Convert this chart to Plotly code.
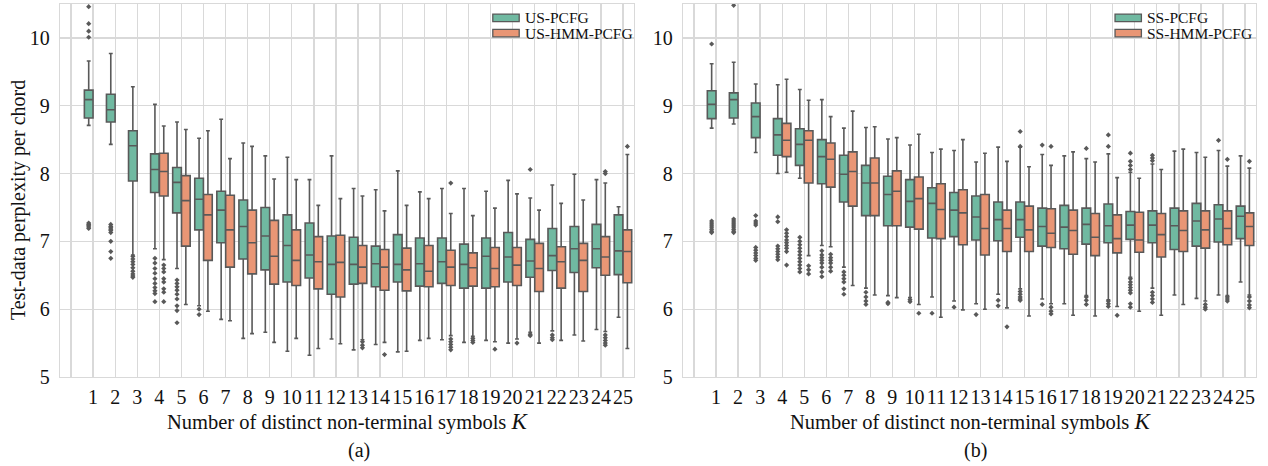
import plotly.graph_objects as go

# ---------------- data ----------------
K = list(range(1, 26))          # K = 1..25 (PCFG)
K_HMM = list(range(4, 26))      # K = 4..25 (HMM-PCFG)
tick_labels = [""] + [str(k) for k in K]

# Panel (a): US-PCFG
us_pcfg_lo  = [8.71, 8.43, 6.80, 6.89, 6.60, 6.05, 5.85, 5.57, 5.66, 5.38, 5.32, 5.56, 5.40, 5.48, 5.37, 5.54, 5.55, 5.51, 5.54, 5.50, 5.66, 5.68, 5.62, 5.70, 5.88]
us_pcfg_q1  = [8.82, 8.76, 7.89, 7.72, 7.42, 7.17, 6.98, 6.74, 6.58, 6.40, 6.46, 6.22, 6.37, 6.33, 6.40, 6.34, 6.38, 6.31, 6.31, 6.40, 6.47, 6.57, 6.54, 6.61, 6.51]
us_pcfg_med = [9.09, 8.94, 8.41, 8.06, 7.87, 7.62, 7.46, 7.22, 7.08, 6.94, 6.80, 6.66, 6.66, 6.67, 6.66, 6.67, 6.70, 6.66, 6.78, 6.77, 6.71, 6.79, 6.89, 6.89, 6.86]
us_pcfg_q3  = [9.23, 9.17, 8.63, 8.29, 8.09, 7.93, 7.74, 7.61, 7.50, 7.39, 7.27, 7.08, 7.06, 6.93, 7.10, 7.05, 7.05, 6.96, 7.05, 7.13, 7.03, 7.19, 7.22, 7.25, 7.39]
us_pcfg_hi  = [9.66, 9.77, 9.28, 9.02, 8.76, 8.52, 8.80, 8.45, 8.26, 8.24, 7.91, 8.26, 7.78, 7.76, 8.04, 7.73, 7.78, 7.78, 7.74, 7.90, 7.64, 7.83, 7.99, 7.91, 7.51]
us_pcfg_out = {
    1: [10.46, 10.21, 10.10, 10.01, 7.27, 7.25, 7.23, 7.21, 7.19],
    2: [7.25, 7.22, 7.20, 7.18, 7.16, 7.13, 7.00, 6.85, 6.75],
    3: [6.78, 6.74, 6.70, 6.66, 6.61, 6.56, 6.52, 6.49, 6.47],
    4: [6.75, 6.68, 6.60, 6.53, 6.45, 6.38, 6.32, 6.27, 6.23, 6.11],
    5: [6.43, 6.38, 6.33, 6.28, 6.22, 6.15, 6.05, 5.98, 5.80],
    6: [6.00, 5.92],
    21: [8.06, 5.63, 5.61],
    22: [5.62, 5.58, 5.55],
}

# Panel (a): US-HMM-PCFG
us_hmm_lo  = [6.73, 6.07, 5.97, 5.83, 5.64, 5.51, 5.57, 5.42, 5.49, 5.55, 5.51, 5.38, 5.57, 5.61, 5.60, 5.52, 5.56, 5.50, 5.54, 5.53, 5.67, 5.42]
us_hmm_q1  = [7.67, 6.93, 6.72, 6.62, 6.52, 6.37, 6.35, 6.30, 6.18, 6.38, 6.28, 6.27, 6.33, 6.35, 6.34, 6.33, 6.35, 6.26, 6.31, 6.26, 6.50, 6.39]
us_hmm_med = [8.03, 7.60, 7.39, 7.17, 6.98, 6.78, 6.72, 6.70, 6.69, 6.62, 6.62, 6.58, 6.56, 6.62, 6.61, 6.60, 6.65, 6.60, 6.70, 6.72, 6.77, 6.85]
us_hmm_q3  = [8.30, 7.97, 7.69, 7.68, 7.46, 7.31, 7.17, 7.07, 7.09, 6.94, 6.88, 6.90, 6.94, 6.87, 6.83, 6.91, 6.91, 6.97, 6.92, 6.97, 7.07, 7.17]
us_hmm_hi  = [8.70, 8.65, 8.63, 8.22, 8.40, 7.92, 7.91, 7.53, 7.63, 7.67, 7.45, 7.53, 7.63, 7.41, 7.38, 7.49, 7.70, 7.46, 7.56, 7.61, 7.86, 8.28]
us_hmm_out = {
    4: [6.65, 6.60, 6.55, 6.45, 6.40, 6.30, 6.25, 6.11],
    13: [5.52, 5.47, 5.43],
    14: [5.33],
    17: [7.86, 5.56, 5.52, 5.48, 5.44, 5.40],
    18: [5.57, 5.54, 5.51],
    19: [5.41],
    20: [5.50],
    24: [8.03, 8.00, 5.62, 5.58, 5.54, 5.50, 5.47],
    25: [8.40],
}

# Panel (b): SS-PCFG
ss_pcfg_lo  = [8.67, 8.73, 8.31, 8.00, 7.93, 6.94, 6.62, 6.31, 6.20, 6.17, 6.18, 6.12, 6.08, 6.22, 6.30, 6.15, 6.08, 6.20, 6.14, 6.47, 6.31, 6.21, 6.16, 6.21, 6.40]
ss_pcfg_q1  = [8.81, 8.82, 8.53, 8.27, 8.12, 7.85, 7.58, 7.38, 7.23, 7.21, 7.05, 7.07, 7.02, 7.01, 7.06, 6.93, 6.89, 6.96, 6.98, 7.03, 6.98, 6.88, 6.93, 6.99, 7.04]
ss_pcfg_med = [9.02, 9.09, 8.84, 8.57, 8.43, 8.25, 7.99, 7.86, 7.69, 7.59, 7.56, 7.46, 7.36, 7.32, 7.32, 7.22, 7.21, 7.25, 7.23, 7.24, 7.24, 7.23, 7.30, 7.33, 7.37]
ss_pcfg_q3  = [9.22, 9.19, 9.04, 8.81, 8.66, 8.50, 8.27, 8.12, 7.96, 7.91, 7.79, 7.72, 7.67, 7.58, 7.58, 7.49, 7.53, 7.49, 7.55, 7.44, 7.45, 7.49, 7.56, 7.54, 7.52]
ss_pcfg_hi  = [9.62, 9.64, 9.32, 9.31, 9.24, 9.09, 8.67, 8.68, 8.51, 8.42, 8.31, 8.34, 8.17, 8.39, 8.39, 8.28, 8.26, 8.22, 8.29, 8.02, 8.14, 8.33, 8.31, 8.34, 8.26]
ss_pcfg_out = {
    1: [9.91, 7.30, 7.27, 7.24, 7.21, 7.18, 7.15, 7.13],
    2: [10.48, 7.33, 7.30, 7.27, 7.24, 7.21, 7.18, 7.15, 7.13],
    3: [7.38, 7.30, 7.27, 7.24, 6.91, 6.87, 6.83, 6.79, 6.75, 6.72],
    4: [7.36, 7.29, 6.93, 6.89, 6.85, 6.81, 6.77, 6.73],
    5: [7.06, 7.00, 6.95, 6.90, 6.85, 6.80, 6.75, 6.70, 6.65, 6.60, 6.55],
    6: [6.86, 6.80, 6.76, 6.72, 6.68, 6.62, 6.55, 6.48],
    7: [6.55, 6.50, 6.45, 6.40, 6.30, 6.22],
    8: [6.25, 6.18, 6.12, 6.07],
    9: [6.10, 6.08],
    10: [6.14, 6.11],
    11: [5.94],
    12: [6.03],
    13: [5.92],
    14: [6.13, 6.05],
    15: [8.62, 8.40, 6.26, 6.22, 6.18, 6.15, 6.13],
    16: [8.42, 6.07],
    18: [8.37, 6.18, 6.13, 6.07],
    19: [8.57, 8.40, 6.12, 6.08, 6.04],
    20: [8.30, 8.18, 8.12, 8.06, 6.45, 6.40, 6.36, 6.32, 6.28, 6.24, 6.08, 6.03],
    21: [8.27, 8.23, 8.19, 6.25, 6.20, 6.15, 6.10],
    24: [8.49],
}

# Panel (b): SS-HMM-PCFG
ss_hmm_lo  = [8.02, 6.79, 6.92, 6.35, 6.21, 6.17, 6.07, 5.88, 5.99, 6.00, 6.02, 5.90, 6.08, 5.91, 5.90, 6.04, 5.97, 5.91, 6.07, 6.12, 6.20, 6.21]
ss_hmm_q1  = [8.25, 7.86, 7.80, 7.52, 7.38, 7.23, 7.18, 7.04, 6.95, 6.80, 6.85, 6.85, 6.91, 6.81, 6.79, 6.83, 6.84, 6.77, 6.85, 6.90, 6.95, 6.94]
ss_hmm_med = [8.49, 8.49, 8.21, 8.03, 7.86, 7.74, 7.63, 7.47, 7.42, 7.19, 7.19, 7.17, 7.12, 7.16, 7.06, 7.04, 7.02, 7.10, 7.16, 7.17, 7.19, 7.22]
ss_hmm_q3  = [8.74, 8.63, 8.45, 8.32, 8.23, 8.04, 7.95, 7.85, 7.76, 7.69, 7.46, 7.52, 7.48, 7.46, 7.41, 7.39, 7.43, 7.41, 7.45, 7.45, 7.45, 7.42]
ss_hmm_hi  = [9.39, 9.08, 8.84, 8.92, 8.69, 8.53, 8.58, 8.36, 8.50, 8.30, 8.18, 8.10, 8.12, 8.32, 8.17, 7.94, 7.93, 8.06, 8.36, 8.24, 8.11, 8.08]
ss_hmm_out = {
    4: [7.17, 7.12, 7.07, 7.02, 6.98, 6.94, 6.90, 6.85, 6.65],
    5: [6.64, 6.58, 6.52],
    6: [6.81, 6.76, 6.72, 6.68, 6.62, 6.56],
    10: [5.94],
    14: [5.74],
    16: [8.40, 6.03, 5.97, 5.93],
    19: [5.91],
    23: [6.07, 6.03, 6.00],
    24: [8.21, 6.18, 6.15, 6.12],
    25: [8.18, 6.18, 6.12, 6.06, 6.02],
}

# ---------------- style ----------------
GREEN = "#70b9a1"
ORANGE = "#e99675"
LINE = "#595959"
GRID = "#d9d9d9"
TXT = "#111111"
FONT = "Liberation Serif"
W, H = 1268, 466
OFF = 0.2      # hue dodge offset (seaborn style)
BOXW = 0.392   # width of each hue box in category units

fig = go.Figure()


def add_box(ks, lo, q1, med, q3, hi, color, shift, xa, ya, name):
    fig.add_trace(go.Box(
        x=[k + shift for k in ks], lowerfence=lo, q1=q1, median=med, q3=q3, upperfence=hi,
        width=BOXW, fillcolor=color, line=dict(color=LINE, width=1.6),
        whiskerwidth=0.45, boxpoints=False, name=name, showlegend=False,
        xaxis=xa, yaxis=ya, hoverinfo="skip",
    ))


def add_out(out, shift, xa, ya):
    xs, ys = [], []
    for k, vals in out.items():
        for v in vals:
            xs.append(k + shift)
            ys.append(v)
    fig.add_trace(go.Scatter(
        x=xs, y=ys, mode="markers", xaxis=xa, yaxis=ya, showlegend=False,
        marker=dict(symbol="diamond", size=4, color=LINE), hoverinfo="skip",
    ))


add_box(K, us_pcfg_lo, us_pcfg_q1, us_pcfg_med, us_pcfg_q3, us_pcfg_hi, GREEN, -OFF, "x", "y", "US-PCFG")
add_box(K_HMM, us_hmm_lo, us_hmm_q1, us_hmm_med, us_hmm_q3, us_hmm_hi, ORANGE, OFF, "x", "y", "US-HMM-PCFG")
add_box(K, ss_pcfg_lo, ss_pcfg_q1, ss_pcfg_med, ss_pcfg_q3, ss_pcfg_hi, GREEN, -OFF, "x2", "y2", "SS-PCFG")
add_box(K_HMM, ss_hmm_lo, ss_hmm_q1, ss_hmm_med, ss_hmm_q3, ss_hmm_hi, ORANGE, OFF, "x2", "y2", "SS-HMM-PCFG")
add_out(us_pcfg_out, -OFF, "x", "y")
add_out(us_hmm_out, OFF, "x", "y")
add_out(ss_pcfg_out, -OFF, "x2", "y2")
add_out(ss_hmm_out, OFF, "x2", "y2")

ydom = [(H - 377) / H, (H - 4) / H]
axis_common = dict(
    showgrid=True, gridcolor=GRID, gridwidth=1.3, zeroline=False,
    showline=True, mirror=True, linecolor=GRID, linewidth=1.3,
    ticks="", automargin=False,
    tickfont=dict(family=FONT, size=20, color=TXT),
)
xcommon = dict(axis_common, range=[-0.5, 25.5], tickmode="array",
               tickvals=list(range(0, 26)), ticktext=tick_labels, ticklabelstandoff=2)
ycommon = dict(axis_common, range=[5, 10.5], tickmode="array", tickvals=[5, 6, 7, 8, 9, 10],
               ticklabelstandoff=5)

fig.update_layout(
    width=W, height=H,
    margin=dict(l=0, r=0, t=0, b=0, autoexpand=False),
    paper_bgcolor="white", plot_bgcolor="white",
    boxmode="overlay",
    font=dict(family=FONT, size=20, color=TXT),
    xaxis=dict(xcommon, domain=[60 / W, 634 / W], anchor="y"),
    yaxis=dict(ycommon, domain=ydom, anchor="x"),
    xaxis2=dict(xcommon, domain=[683 / W, 1256 / W], anchor="y2"),
    yaxis2=dict(ycommon, domain=ydom, anchor="x2"),
)

# axis titles and captions
ann = []
ann.append(dict(text="Test-data perplexity per chord", x=18 / W, y=(H - 200) / H, xref="paper", yref="paper",
                textangle=-90, showarrow=False, font=dict(size=20, family=FONT, color=TXT),
                xanchor="center", yanchor="middle"))
for cx in (347, 970):
    ann.append(dict(text="Number of distinct non-terminal symbols <span style='font-size:23px'><i>K</i></span>",
                    x=cx / W, y=(H - 421) / H,
                    xref="paper", yref="paper", showarrow=False, font=dict(size=20.5, family=FONT, color=TXT),
                    xanchor="center", yanchor="middle"))
ann.append(dict(text="(a)", x=359 / W, y=(H - 450) / H, xref="paper", yref="paper", showarrow=False,
                font=dict(size=20, family=FONT, color=TXT), xanchor="center", yanchor="middle"))
ann.append(dict(text="(b)", x=975 / W, y=(H - 450) / H, xref="paper", yref="paper", showarrow=False,
                font=dict(size=20, family=FONT, color=TXT), xanchor="center", yanchor="middle"))

# legends (patch + label) in each panel
shapes = []
for xr, yr, names in [("x domain", "y domain", ["US-PCFG", "US-HMM-PCFG"]),
                      ("x2 domain", "y2 domain", ["SS-PCFG", "SS-HMM-PCFG"])]:
    for i, (nm, col) in enumerate(zip(names, [GREEN, ORANGE])):
        y0 = 0.953 - i * 0.041
        y1 = 0.973 - i * 0.041
        shapes.append(dict(type="rect", xref=xr, yref=yr, x0=0.754, x1=0.800, y0=y0, y1=y1,
                           fillcolor=col, line=dict(color=LINE, width=1.3)))
        ann.append(dict(text=nm, xref=xr, yref=yr, x=0.807, y=(y0 + y1) / 2, showarrow=False,
                        xanchor="left", yanchor="middle", font=dict(size=15.5, family=FONT, color=TXT)))

fig.update_layout(annotations=ann, shapes=shapes)
fig.write_html(
    "out.html",
    config={"displayModeBar": False, "staticPlot": True},
    post_script="document.body.style.margin='0px';document.documentElement.style.overflow='hidden';",
)
